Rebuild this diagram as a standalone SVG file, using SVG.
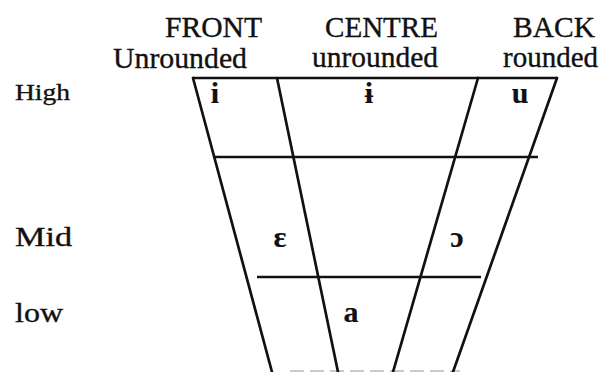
<svg xmlns="http://www.w3.org/2000/svg" width="607" height="372" viewBox="0 0 607 372">
<style>
text{font-family:"Liberation Serif","Times New Roman",serif;fill:#111;stroke:#111;stroke-width:0.35}
.hd{font-size:29px}
.lb{font-size:27px}
.v{font-size:30px;text-anchor:middle;font-weight:bold;stroke-width:0.2}
.ln{stroke:#111;stroke-width:2.7;fill:none;stroke-linecap:round}
.hz{stroke:#111;stroke-width:2.3;fill:none}
</style>
<rect width="607" height="372" fill="#fff"/>
<g id="headers">
<text class="hd" x="165" y="37" textLength="97" lengthAdjust="spacingAndGlyphs">FRONT</text>
<text class="hd" x="325" y="37" textLength="113" lengthAdjust="spacingAndGlyphs">CENTRE</text>
<text class="hd" x="513" y="37" textLength="82" lengthAdjust="spacingAndGlyphs">BACK</text>
<text class="hd" x="113" y="68" textLength="134" lengthAdjust="spacingAndGlyphs">Unrounded</text>
<text class="hd" x="312" y="67" textLength="126" lengthAdjust="spacingAndGlyphs">unrounded</text>
<text class="hd" x="503" y="67" textLength="95" lengthAdjust="spacingAndGlyphs">rounded</text>
</g>
<g id="rows">
<text class="lb" x="15" y="100" textLength="55" lengthAdjust="spacingAndGlyphs" style="font-size:23px">High</text>
<text class="lb" x="15" y="246" textLength="57" lengthAdjust="spacingAndGlyphs">Mid</text>
<text class="lb" x="15" y="322" textLength="48" lengthAdjust="spacingAndGlyphs">low</text>
</g>
<g id="chart">
<line class="hz" x1="193" y1="78" x2="557" y2="78"/>
<line class="hz" x1="215" y1="157" x2="538" y2="157"/>
<line class="hz" x1="257" y1="277" x2="481" y2="277"/>
<line x1="290" y1="371" x2="460" y2="371" stroke="#bbb" stroke-width="1.5" stroke-dasharray="14 6"/>
<line class="ln" x1="193" y1="78" x2="272" y2="372"/>
<line class="ln" x1="277" y1="78" x2="338" y2="372"/>
<line class="ln" x1="478" y1="78" x2="393" y2="372"/>
<line class="ln" x1="557" y1="78" x2="453" y2="372"/>
</g>
<g id="vowels">
<text class="v" x="215" y="103">i</text>
<text class="v" x="369" y="103">ɨ</text>
<text class="v" x="520" y="103">u</text>
<text class="v" x="280" y="247">ɛ</text>
<text class="v" x="457" y="247">ɔ</text>
<text class="v" x="351" y="322">a</text>
</g>
</svg>
